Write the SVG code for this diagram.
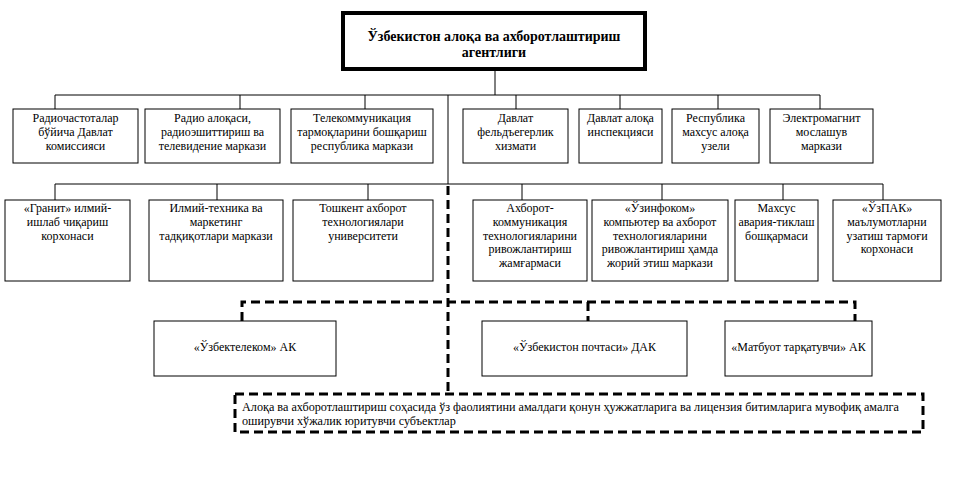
<svg xmlns="http://www.w3.org/2000/svg" width="974" height="485" viewBox="0 0 974 485">
<style>
  .bx{fill:#fff;stroke:#000;stroke-width:1}
  .t{font-family:"Liberation Serif","Times New Roman",serif;font-size:12px;fill:#000;text-anchor:middle}
  .ts{font-family:"Liberation Serif","Times New Roman",serif;font-size:12px;fill:#000;text-anchor:middle}
  .tb{font-family:"Liberation Serif","Times New Roman",serif;font-size:14px;font-weight:bold;fill:#000;text-anchor:middle}
  .tl{font-family:"Liberation Serif","Times New Roman",serif;font-size:12.2px;fill:#000}
  .ln{fill:none;stroke:#000;stroke-width:1}
  .dl{fill:none;stroke:#000;stroke-width:3;stroke-dasharray:9 5}
</style>
<rect width="974" height="485" fill="#fff"/>
<g id="connectors">
  <path class="ln" d="M495,69V95M55,95H820M55,95V109M240,95V109M365,95V109M516,95V109M620,95V109M718,95V109M820,95V109"/>
  <path class="ln" d="M448,95V184M55,184H883M55,184V200M217,184V200M368,184V200M522,184V200M662,184V200M783,184V200M883,184V200"/>
  <path class="dl" d="M448,186V394"/>
  <path class="dl" d="M242,321V302H855V321M588,302V321"/>
</g>
<g id="n0">
  <rect x="343" y="13" width="302" height="56" fill="#fff" stroke="#000" stroke-width="4"/>
  <text class="tb" x="494" y="41">Ўзбекистон алоқа ва ахборотлаштириш</text>
  <text class="tb" x="494" y="57">агентлиги</text>
</g>
<g id="n1"><rect class="bx" x="13" y="109" width="125" height="54"/>
  <text class="t" x="75.5" y="122">Радиочастоталар</text><text class="t" x="75.5" y="136">бўйича Давлат</text><text class="t" x="75.5" y="150">комиссияси</text></g>
<g id="n2"><rect class="bx" x="145" y="109" width="135" height="54"/>
  <text class="t" x="212.5" y="122">Радио алоқаси,</text><text class="t" x="212.5" y="136">радиоэшиттириш ва</text><text class="t" x="212.5" y="150">телевидение маркази</text></g>
<g id="n3"><rect class="bx" x="291" y="109" width="142" height="54"/>
  <text class="t" x="362" y="122">Телекоммуникация</text><text class="t" x="362" y="136">тармоқларини бошқариш</text><text class="t" x="362" y="150">республика маркази</text></g>
<g id="n4"><rect class="bx" x="463" y="109" width="105" height="54"/>
  <text class="t" x="515.5" y="122">Давлат</text><text class="t" x="515.5" y="136">фельдъегерлик</text><text class="t" x="515.5" y="150">хизмати</text></g>
<g id="n5"><rect class="bx" x="579" y="109" width="83" height="54"/>
  <text class="t" x="620.5" y="122">Давлат алоқа</text><text class="t" x="620.5" y="136">инспекцияси</text></g>
<g id="n6"><rect class="bx" x="672" y="109" width="87" height="54"/>
  <text class="t" x="715.5" y="122">Республика</text><text class="t" x="715.5" y="136">махсус алоқа</text><text class="t" x="715.5" y="150">узели</text></g>
<g id="n7"><rect class="bx" x="770" y="109" width="103" height="54"/>
  <text class="t" x="821.5" y="122">Электромагнит</text><text class="t" x="821.5" y="136">мослашув</text><text class="t" x="821.5" y="150">маркази</text></g>
<g id="n8"><rect class="bx" x="5" y="200" width="125" height="81"/>
  <text class="t" x="67.5" y="212">«Гранит» илмий-</text><text class="t" x="67.5" y="226">ишлаб чиқариш</text><text class="t" x="67.5" y="240">корхонаси</text></g>
<g id="n9"><rect class="bx" x="149" y="200" width="134" height="81"/>
  <text class="t" x="216" y="212">Илмий-техника ва</text><text class="t" x="216" y="226">маркетинг</text><text class="t" x="216" y="240">тадқиқотлари маркази</text></g>
<g id="n10"><rect class="bx" x="293" y="200" width="140" height="81"/>
  <text class="t" x="363" y="212">Тошкент ахборот</text><text class="t" x="363" y="226">технологиялари</text><text class="t" x="363" y="240">университети</text></g>
<g id="n11"><rect class="bx" x="473" y="200" width="114" height="81"/>
  <text class="t" x="530" y="212">Ахборот-</text><text class="t" x="530" y="226">коммуникация</text><text class="t" x="530" y="240">технологияларини</text><text class="t" x="530" y="253">ривожлантириш</text><text class="t" x="530" y="267">жамғармаси</text></g>
<g id="n12"><rect class="bx" x="592" y="200" width="136" height="81"/>
  <text class="t" x="660" y="212">«Ўзинфоком»</text><text class="t" x="660" y="226">компьютер ва ахборот</text><text class="t" x="660" y="240">технологияларини</text><text class="t" x="660" y="253">ривожлантириш ҳамда</text><text class="t" x="660" y="267">жорий этиш маркази</text></g>
<g id="n13"><rect class="bx" x="735" y="200" width="83" height="81"/>
  <text class="t" x="776.5" y="212">Махсус</text><text class="t" x="776.5" y="226">авария-тиклаш</text><text class="t" x="776.5" y="240">бошқармаси</text></g>
<g id="n14"><rect class="bx" x="833" y="200" width="108" height="81"/>
  <text class="t" x="887" y="212">«ЎзПАК»</text><text class="t" x="887" y="226">маълумотларни</text><text class="t" x="887" y="240">узатиш тармоғи</text><text class="t" x="887" y="253">корхонаси</text></g>
<g id="n15"><rect class="bx" x="154" y="321" width="182" height="55"/>
  <text class="ts" x="245" y="351">«Ўзбектелеком» АК</text></g>
<g id="n16"><rect class="bx" x="482" y="321" width="205" height="55"/>
  <text class="ts" x="584.5" y="351">«Ўзбекистон почтаси» ДАК</text></g>
<g id="n17"><rect class="bx" x="725" y="321" width="147" height="55"/>
  <text class="ts" x="798.5" y="351">«Матбуот тарқатувчи» АК</text></g>
<g id="n18"><rect x="235" y="394" width="688" height="38" fill="#fff" stroke="#000" stroke-width="3" stroke-dasharray="9 5"/>
  <text class="tl" x="242" y="411">Алоқа ва ахборотлаштириш соҳасида ўз фаолиятини амалдаги қонун ҳужжатларига ва лицензия битимларига мувофиқ амалга</text>
  <text class="tl" x="242" y="425">оширувчи хўжалик юритувчи субъектлар</text></g>
</svg>
